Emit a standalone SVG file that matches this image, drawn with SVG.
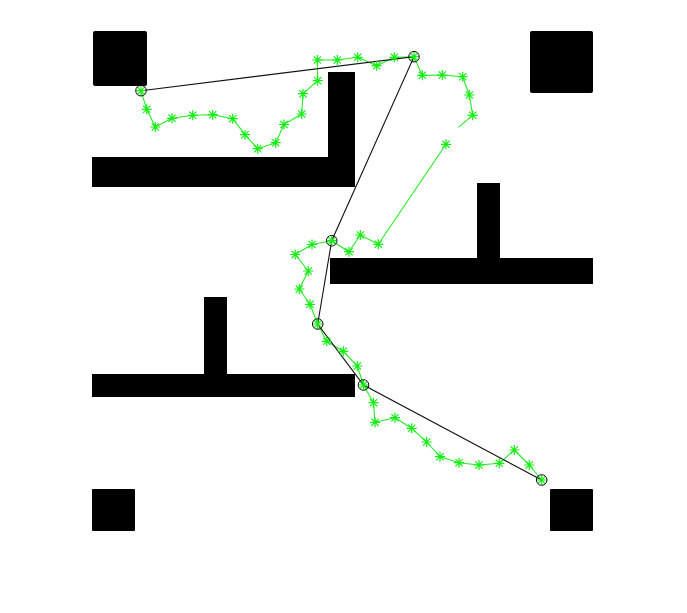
<svg xmlns="http://www.w3.org/2000/svg" width="687" height="613" viewBox="0 0 687 613">
<style>
.obs{fill:#000}
.gp{fill:none;stroke:#22ee22;stroke-width:1.1;stroke-linejoin:round}
.bp{fill:none;stroke:#111;stroke-width:1.1}
.st{fill:none;stroke:#11ee11;stroke-width:1.2}
.wp{fill:none;stroke:#111;stroke-width:1}
</style>
<defs>
<path id="star" class="st" d="M-5,0H5M0,-5V5M-3.6,-3.6L3.6,3.6M-3.6,3.6L3.6,-3.6"/>
</defs>
<rect width="687" height="613" fill="#fff"/>
<g id="obstacles">
<rect class="obs" x="93" y="31" width="54" height="55" rx="2"/>
<rect class="obs" x="530" y="31" width="63" height="62" rx="2"/>
<rect class="obs" x="92" y="489" width="43" height="42" rx="1"/>
<rect class="obs" x="550" y="489" width="43" height="42" rx="1"/>
<path class="obs" d="M92,157H328V72H355V187H92Z"/>
<path class="obs" d="M330,258H477V183H500V258H593V284H330Z"/>
<path class="obs" d="M92,374H204V297H227V374H355V397H92Z"/>
</g>
<g id="connectors">
<polyline class="gp" points="141,90.7 146.7,109.3 155.3,127 172,118.3 192.7,115.3 212.7,114.7 232.7,118.7 245,134.7 257.7,148.7 275.7,142.7 284,124.5 301.7,114 303,93.7 317.7,80.7 317.3,60 337.3,60 357.7,57.3 376.7,65.7 394.3,57.3 414,56.7 422.3,75.3 442.3,75 462.7,76.7 469.3,95 472.7,115.3 458.3,127.3"/>
<polyline class="gp" points="446,144.3 378.3,244.3 360.3,235 349,251.7 331.7,240.7 312,244.5 295.2,254.5 308.3,271 299.3,289 310,304.3 317.7,324 326.7,341.3 343.3,351.3 357.3,366 363.5,385 373.5,402.7 375,422.3 395,417.7 411.7,428.3 426.7,442 440,456.7 459,462.7 479,465 499.3,463.3 514.3,450 529.3,465 541.7,480"/>
<polyline class="bp" points="141,90.7 414,56.7 331.7,240.7 317.7,324 363.5,385 541.7,480"/>
</g>
<g id="samples">
<use href="#star" x="146.7" y="109.3"/><use href="#star" x="155.3" y="127"/><use href="#star" x="172" y="118.3"/><use href="#star" x="192.7" y="115.3"/><use href="#star" x="212.7" y="114.7"/><use href="#star" x="232.7" y="118.7"/><use href="#star" x="245" y="134.7"/><use href="#star" x="257.7" y="148.7"/><use href="#star" x="275.7" y="142.7"/><use href="#star" x="284" y="124.5"/><use href="#star" x="301.7" y="114"/><use href="#star" x="303" y="93.7"/><use href="#star" x="317.7" y="80.7"/><use href="#star" x="317.3" y="60"/><use href="#star" x="337.3" y="60"/><use href="#star" x="357.7" y="57.3"/><use href="#star" x="376.7" y="65.7"/><use href="#star" x="394.3" y="57.3"/><use href="#star" x="422.3" y="75.3"/><use href="#star" x="442.3" y="75"/><use href="#star" x="462.7" y="76.7"/><use href="#star" x="469.3" y="95"/><use href="#star" x="472.7" y="115.3"/>
<use href="#star" x="446" y="144.3"/><use href="#star" x="378.3" y="244.3"/><use href="#star" x="360.3" y="235"/><use href="#star" x="349" y="251.7"/><use href="#star" x="312" y="244.5"/><use href="#star" x="295.2" y="254.5"/><use href="#star" x="308.3" y="271"/><use href="#star" x="299.3" y="289"/><use href="#star" x="310" y="304.3"/><use href="#star" x="326.7" y="341.3"/><use href="#star" x="343.3" y="351.3"/><use href="#star" x="357.3" y="366"/><use href="#star" x="373.5" y="402.7"/><use href="#star" x="375" y="422.3"/><use href="#star" x="395" y="417.7"/><use href="#star" x="411.7" y="428.3"/><use href="#star" x="426.7" y="442"/><use href="#star" x="440" y="456.7"/><use href="#star" x="459" y="462.7"/><use href="#star" x="479" y="465"/><use href="#star" x="499.3" y="463.3"/><use href="#star" x="514.3" y="450"/><use href="#star" x="529.3" y="465"/>
</g>
<g id="wp1"><use href="#star" x="141" y="90.7"/><circle class="wp" cx="141" cy="90.7" r="5.3"/></g>
<g id="wp2"><use href="#star" x="414" y="56.7"/><circle class="wp" cx="414" cy="56.7" r="5.3"/></g>
<g id="wp3"><use href="#star" x="331.7" y="240.7"/><circle class="wp" cx="331.7" cy="240.7" r="5.3"/></g>
<g id="wp4"><use href="#star" x="317.7" y="324"/><circle class="wp" cx="317.7" cy="324" r="5.3"/></g>
<g id="wp5"><use href="#star" x="363.5" y="385"/><circle class="wp" cx="363.5" cy="385" r="5.3"/></g>
<g id="wp6"><use href="#star" x="541.7" y="480"/><circle class="wp" cx="541.7" cy="480" r="5.3"/></g>
</svg>
